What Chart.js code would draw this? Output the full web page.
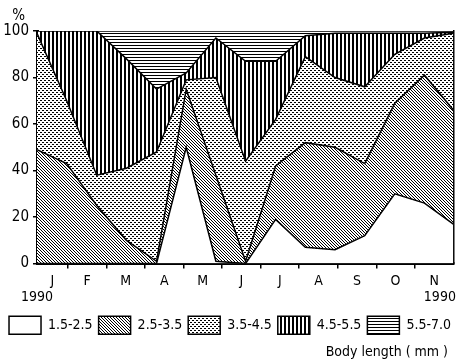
<!DOCTYPE html>
<html>
<head>
<meta charset="utf-8">
<title>Body length distribution 1990</title>
<script src="https://cdn.jsdelivr.net/npm/chart.js@4.4.1/dist/chart.umd.min.js"></script>
<style>
    body { margin: 0; background: #fff; }
    #wrap { width: 460px; height: 361px; }
</style>
</head>
<body>
<div id="wrap"><canvas id="chart" width="460" height="361"></canvas></div>
<script>
// Sampling dates as decimal months (0 = 1 January 1990)
const sampleMonths = [0.2, 0.97, 1.75, 2.52, 3.3, 4.07, 4.84, 5.61, 6.39, 7.16, 7.93, 8.7, 9.48, 10.25, 11.0];

// Axis labels
const monthLabels = ['J', 'F', 'M', 'A', 'M', 'J', 'J', 'A', 'S', 'O', 'N'];
const yearLabel = '1990';
const yTicks = [0, 20, 40, 60, 80, 100];

// Size classes (mm) and percentage of each class per sample
const sizeClasses = ['1.5-2.5', '2.5-3.5', '3.5-4.5', '4.5-5.5', '5.5-7.0'];
const pct15to25 = [0, 0, 0, 0, 0, 50, 1, 0, 19, 7, 6, 12, 30, 26, 17];
const pct25to35 = [49, 43, 25, 10, 1, 25, 37, 1, 23, 45, 44, 31, 39, 55, 49];
const pct35to45 = [50, 27, 13, 31, 47, 4, 42, 43, 20, 37, 30, 33, 21, 16, 33];
const pct45to55 = [1, 30, 62, 47, 27, 3, 17, 43, 25, 9, 19, 23, 9, 2, 0.5];
const pct55to70 = [0, 0, 0, 12, 25, 18, 3, 13, 13, 2, 1, 1, 1, 1, 0.5];

const fontFamily = "'Liberation Sans Narrow', 'DejaVu Sans Condensed', 'Liberation Sans', sans-serif";
Chart.defaults.font.family = fontFamily;
Chart.defaults.color = '#000';

// Black and white fill patterns
function makePattern(kind) {
    const size = (kind === 'dots' || kind === 'vert') ? 4 : 3;
    const c = document.createElement('canvas');
    c.width = size;
    c.height = size;
    const g = c.getContext('2d');
    g.fillStyle = '#fff';
    g.fillRect(0, 0, size, size);
    g.fillStyle = '#000';
    if (kind === 'diag') {
        for (let i = 0; i < size; i++) g.fillRect(i, i, 1, 1);
    } else if (kind === 'dots') {
        g.fillRect(0, 0, 2, 1);
        g.fillRect(2, 2, 2, 1);
    } else if (kind === 'vert') {
        g.fillRect(0, 0, 2, size);
    } else if (kind === 'horiz') {
        g.fillRect(0, 0, size, 1);
    }
    return g.createPattern(c, 'repeat');
}

const fills = ['#fff', makePattern('diag'), makePattern('dots'), makePattern('vert'), makePattern('horiz')];
const series = [pct15to25, pct25to35, pct35to45, pct45to55, pct55to70];

const datasets = series.map(function(values, k) {
    return {
        label: sizeClasses[k],
        data: sampleMonths.map((m, i) => ({ x: m, y: values[i] })),
        backgroundColor: fills[k],
        borderColor: '#000',
        borderWidth: 1.5,
        fill: k === 0 ? 'origin' : '-1',
        pointRadius: 0,
        tension: 0
    };
});

// x ticks: month boundaries (marks only), month letters centred in each month, year under first and last month
const xMin = sampleMonths[0];
const xMax = sampleMonths[sampleMonths.length - 1];
const xTickDefs = [];
xTickDefs.push({ value: xMin, label: ['', yearLabel] });
monthLabels.forEach(function(m, i) {
    xTickDefs.push({ value: (Math.max(i, xMin) + i + 1) / 2, label: m });
    if (i + 1 < monthLabels.length) xTickDefs.push({ value: i + 1, label: '' });
});
xTickDefs.push({ value: xMax - 0.35, label: ['', yearLabel] });
xTickDefs.sort((a, b) => a.value - b.value);

const percentLabel = {
    id: 'percentLabel',
    afterDraw(chart) {
        const { ctx, scales: { y } } = chart;
        ctx.save();
        ctx.font = '15px ' + fontFamily;
        ctx.fillStyle = '#000';
        ctx.textAlign = 'right';
        ctx.textBaseline = 'middle';
        ctx.fillText('%', y.right - 12, y.top - 15);
        ctx.restore();
    }
};

new Chart(document.getElementById('chart'), {
    type: 'line',
    data: { datasets: datasets },
    plugins: [percentLabel],
    options: {
        responsive: false,
        animation: false,
        events: [],
        layout: { padding: { top: 31, left: 0, right: 0, bottom: 0 } },
        scales: {
            x: {
                type: 'linear',
                min: xMin,
                max: xMax,
                afterBuildTicks: function(axis) {
                    axis.ticks = xTickDefs.map(t => ({ value: t.value }));
                },
                ticks: {
                    autoSkip: false,
                    maxRotation: 0,
                    minRotation: 0,
                    padding: 4,
                    font: { size: 14 },
                    callback: (v, i) => xTickDefs[i].label
                },
                grid: {
                    drawOnChartArea: false,
                    tickLength: 5,
                    lineWidth: 1.5,
                    color: ctx => (ctx.tick && Number.isInteger(ctx.tick.value)) ? '#000' : 'rgba(0,0,0,0)'
                },
                border: { color: '#000', width: 3 }
            },
            y: {
                stacked: true,
                min: 0,
                max: 100,
                afterBuildTicks: function(axis) {
                    axis.ticks = yTicks.map(v => ({ value: v }));
                },
                afterFit: function(axis) { axis.width = 37; },
                ticks: { padding: 4, font: { size: 15 } },
                grid: { drawOnChartArea: false, tickLength: 4, lineWidth: 1.5, color: '#000' },
                border: { color: '#000', width: 3 }
            },
            yRight: {
                position: 'right',
                min: 0,
                max: 100,
                afterFit: function(axis) { axis.width = 3; },
                ticks: { display: false },
                grid: { display: false },
                border: { color: '#000', width: 1.5 }
            }
        },
        plugins: {
            tooltip: { enabled: false },
            legend: {
                position: 'bottom',
                labels: {
                    boxWidth: 32,
                    boxHeight: 18,
                    padding: 6,
                    font: { size: 14 }
                }
            },
            title: {
                display: true,
                text: 'Body length ( mm )   ',
                position: 'bottom',
                align: 'end',
                font: { size: 14, weight: 'normal' },
                padding: { top: 0, bottom: 0 }
            }
        }
    }
});
</script>
</body>
</html>
